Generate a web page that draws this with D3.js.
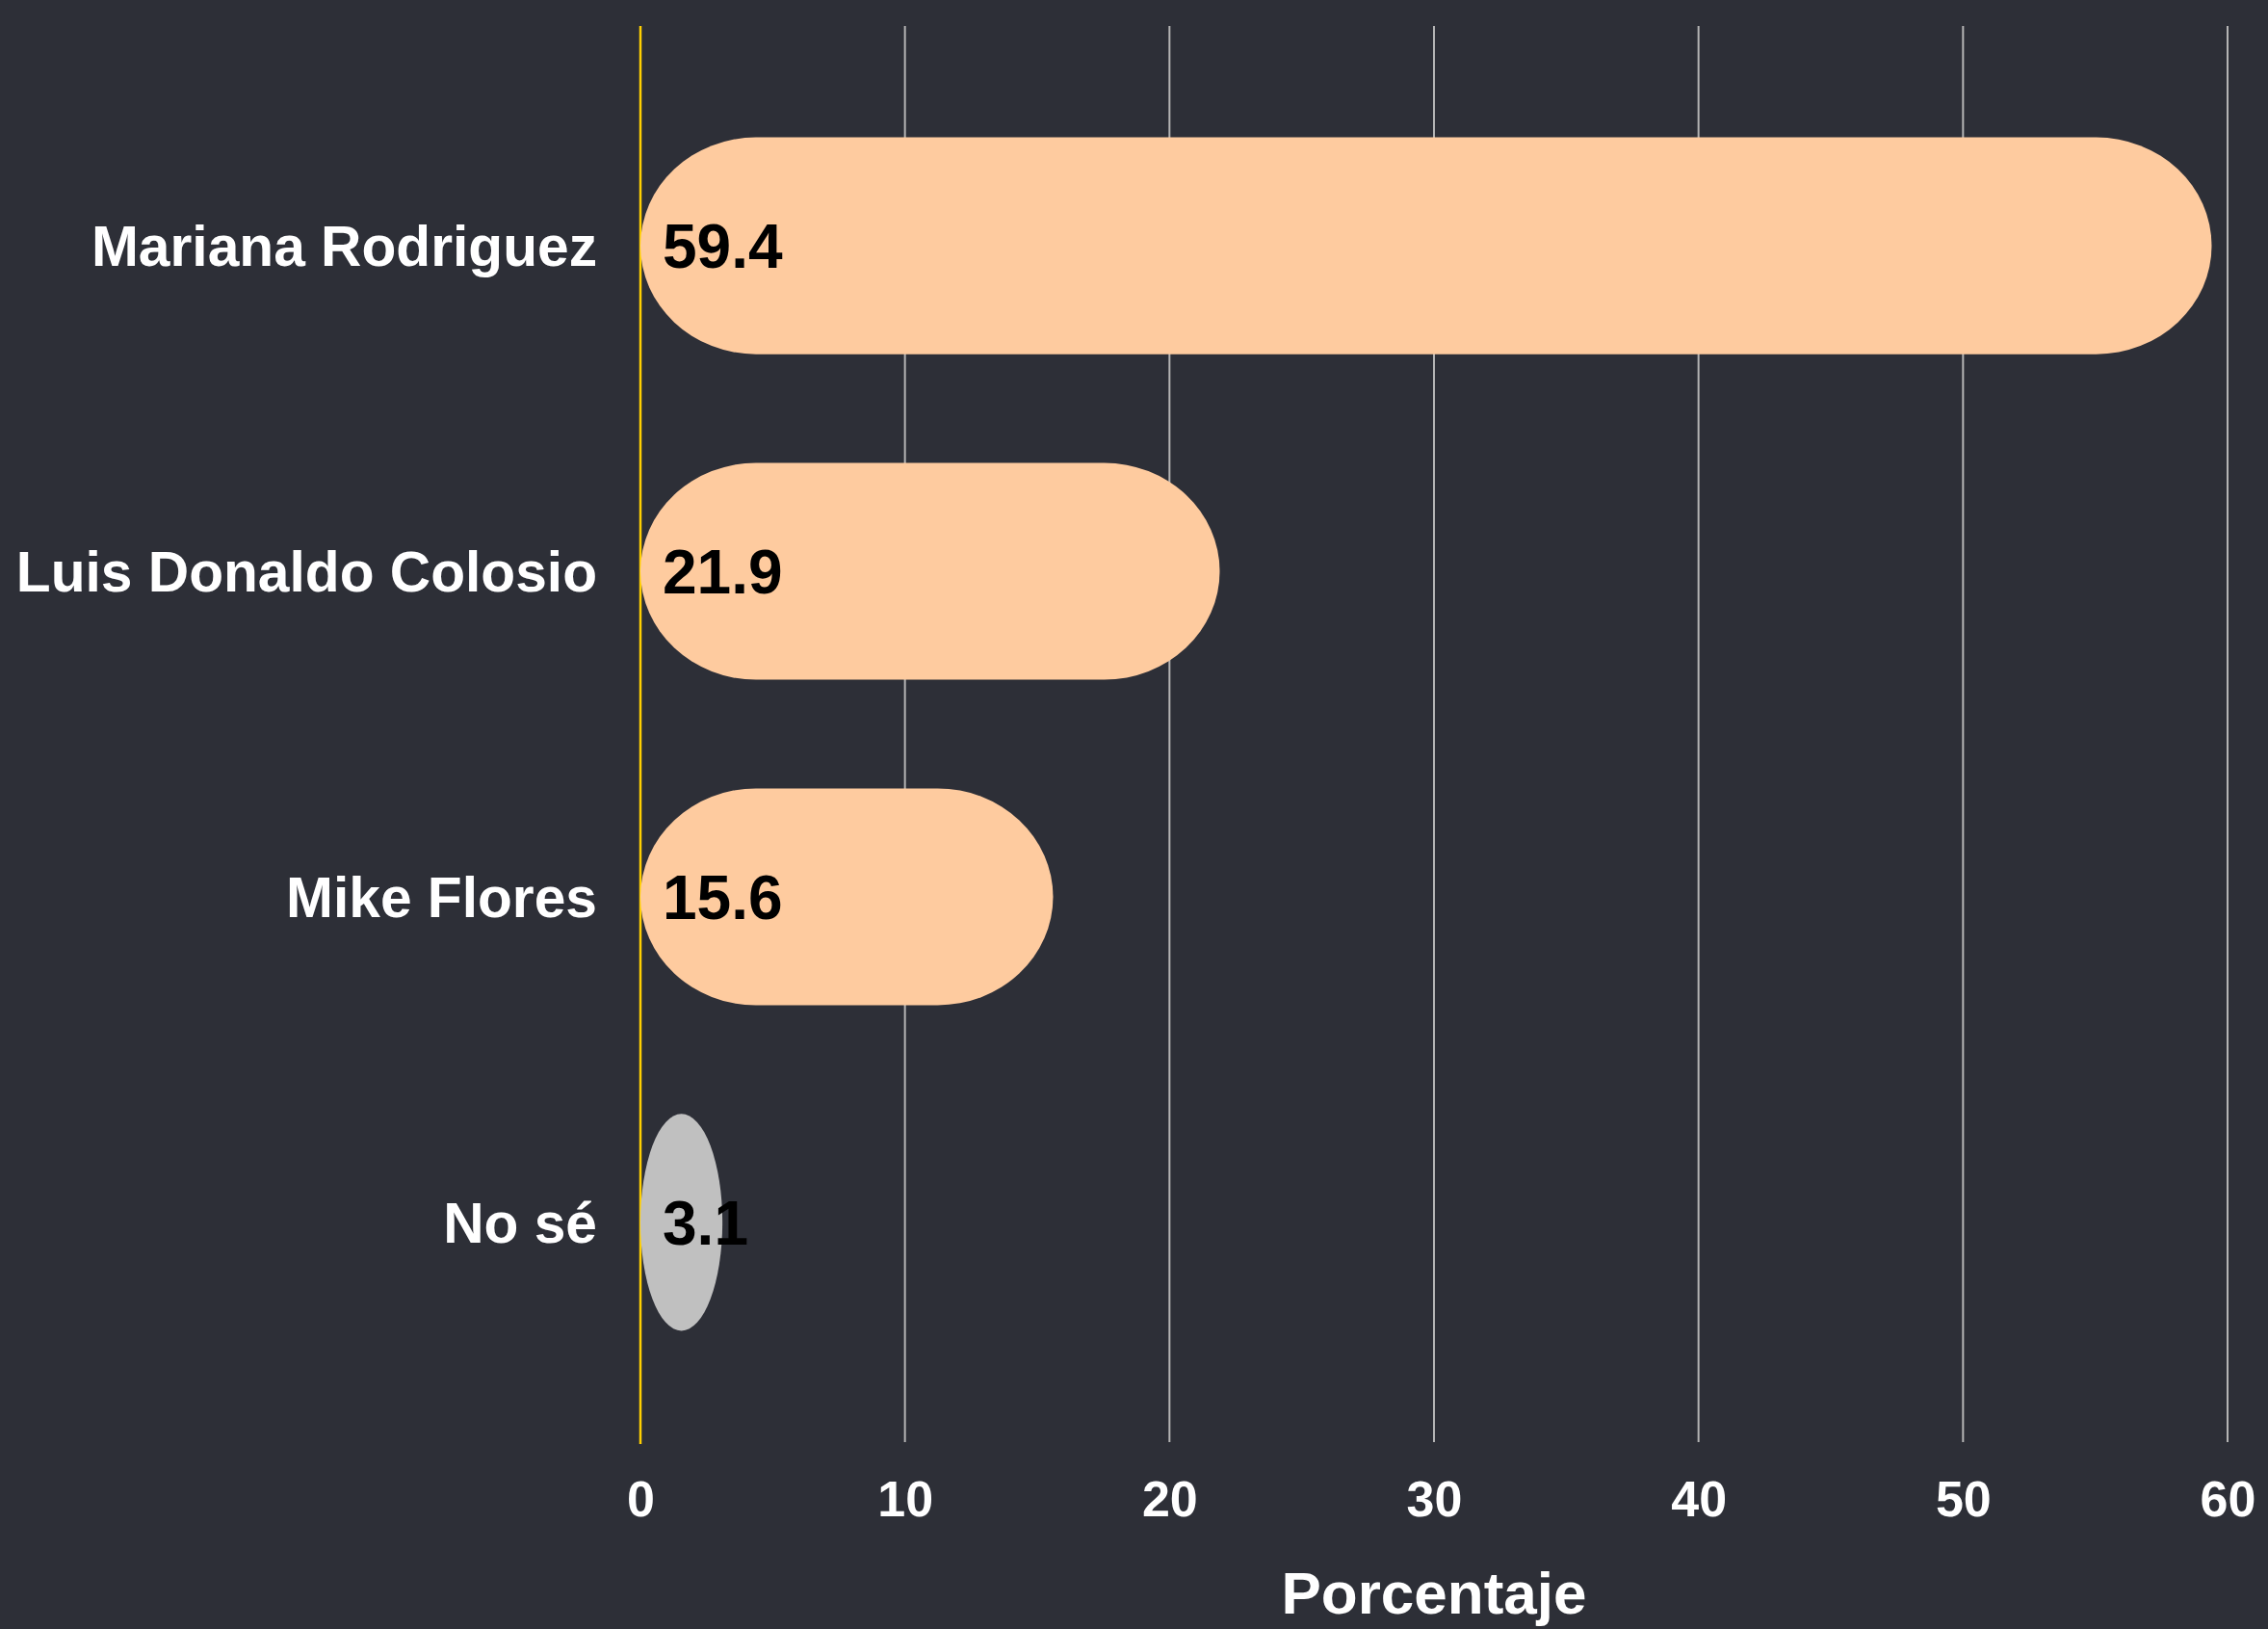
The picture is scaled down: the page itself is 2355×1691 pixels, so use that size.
<!DOCTYPE html>
<html>
<head>
<meta charset="utf-8">
<script src="https://cdn.jsdelivr.net/npm/d3@7"></script>
<style>
  html, body { margin: 0; padding: 0; background: #2d2f37; }
  svg { display: block; }
  text { font-family: "Liberation Sans", Arial, Helvetica, sans-serif; font-weight: bold; }
</style>
</head>
<body>
<svg id="chart" width="2355" height="1691"></svg>
<script>
const categories = ["Mariana Rodriguez", "Luis Donaldo Colosio", "Mike Flores", "No sé"];
const values = [59.4, 21.9, 15.6, 3.1];
const barColors = ["#fecb9f", "#fecb9f", "#fecb9f", "#c0c0c0"];
const xTicks = [0, 10, 20, 30, 40, 50, 60];
const xTitle = "Porcentaje";

const W = 2355, H = 1691;
const margin = { left: 665, right: 42, top: 27, bottom: 194 };
const svg = d3.select("#chart");
svg.append("rect").attr("width", W).attr("height", H).attr("fill", "#2d2f37");

const x = d3.scaleLinear().domain([0, 60]).range([margin.left, W - margin.right]);
const y = d3.scaleBand().domain(categories)
  .range([margin.top, H - margin.bottom])
  .paddingInner(0.334).paddingOuter(0.342);

// gridlines
svg.append("g").selectAll("line").data(xTicks.filter(t => t !== 0)).join("line")
  .attr("x1", d => x(d)).attr("x2", d => x(d))
  .attr("y1", margin.top).attr("y2", H - margin.bottom)
  .attr("stroke", "#b4b4b4").attr("stroke-width", 2);

// zero line
svg.append("line")
  .attr("x1", x(0)).attr("x2", x(0))
  .attr("y1", margin.top).attr("y2", H - margin.bottom + 2)
  .attr("stroke", "#ffcf00").attr("stroke-width", 2.5);

const data = categories.map((c, i) => ({ c, v: values[i], col: barColors[i] }));

// bars
svg.append("g").selectAll("rect").data(data).join("rect")
  .attr("x", x(0))
  .attr("y", d => y(d.c))
  .attr("width", d => x(d.v) - x(0))
  .attr("height", y.bandwidth())
  .attr("rx", 120)
  .attr("ry", y.bandwidth() / 2)
  .attr("fill", d => d.col);

// value labels
svg.append("g").selectAll("text").data(data).join("text")
  .attr("x", x(0) + 23)
  .attr("y", d => y(d.c) + y.bandwidth() / 2)
  .attr("dy", "0.36em")
  .attr("font-size", 64)
  .attr("fill", "#000")
  .text(d => d.v.toFixed(1));

// category labels
svg.append("g").selectAll("text").data(data).join("text")
  .attr("x", 620)
  .attr("y", d => y(d.c) + y.bandwidth() / 2)
  .attr("dy", "0.36em")
  .attr("text-anchor", "end")
  .attr("font-size", 58.7)
  .attr("fill", "#fff")
  .text(d => d.c);

// x axis tick labels
const xAxis = d3.axisBottom(x).tickValues(xTicks).tickSize(0).tickPadding(0);
const gx = svg.append("g").attr("transform", `translate(0, ${1555})`).call(xAxis);
gx.select(".domain").remove();
gx.selectAll("text")
  .attr("y", 0).attr("dy", "0.36em")
  .attr("font-size", 52)
  .attr("font-family", '"Liberation Sans", Arial, sans-serif')
  .attr("font-weight", "bold")
  .attr("fill", "#fff");

// x title
svg.append("text")
  .attr("x", (x(0) + x(60)) / 2)
  .attr("y", 1675)
  .attr("text-anchor", "middle")
  .attr("font-size", 62)
  .attr("fill", "#fff")
  .text(xTitle);
</script>
</body>
</html>
